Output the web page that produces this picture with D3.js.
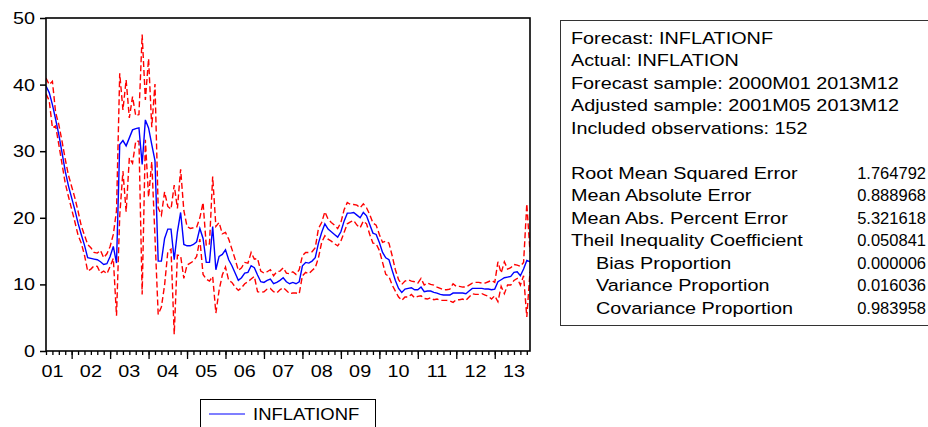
<!DOCTYPE html>
<html>
<head>
<meta charset="utf-8">
<script src="https://cdn.jsdelivr.net/npm/d3@7"></script>
<style>
body { margin: 0; background: #fff; }
text { font-family: "Liberation Sans", Arial, sans-serif; fill: #000; }
</style>
</head>
<body>
<div id="chart"></div>
<script>
// monthly observations, 2001M05 .. 2013M12 (152)
var forecast = [
  39.8, 38.8, 37.0, 34.8, 32.5, 29.8, 27.0, 24.8,
  23.0, 21.2, 19.2, 17.5, 15.9, 14.0, 13.9, 13.8, 13.7, 13.4, 13.0, 13.1,
  14.2, 15.7, 13.2, 31.0, 31.6, 30.8, 32.0, 33.2, 33.4, 33.5, 28.0, 34.7,
  33.5, 31.0, 28.6, 13.5, 13.5, 16.9, 18.3, 18.3, 13.7, 17.9, 20.8, 16.0,
  15.8, 15.8, 16.0, 16.4, 18.4, 16.9, 13.3, 13.3, 18.7, 12.2, 14.2, 14.5,
  15.2, 13.7, 12.8, 11.7, 10.6, 11.0, 11.7, 11.8, 12.8, 12.5, 11.4, 10.4,
  10.3, 10.6, 10.8, 10.1, 10.3, 10.6, 11.0, 10.4, 10.1, 10.3, 10.1, 10.4,
  12.8, 13.3, 13.2, 13.5, 14.0, 16.2, 17.8, 19.1, 18.3, 17.9, 17.5, 17.1,
  17.9, 19.5, 20.7, 20.7, 20.8, 20.4, 20.0, 20.8, 20.3, 19.0, 17.7, 17.5,
  16.3, 14.8, 14.0, 13.7, 12.1, 10.6, 9.4, 8.8, 9.3, 9.4, 9.5, 9.2,
  9.2, 9.6, 8.9, 9.0, 9.0, 8.8, 8.7, 8.5, 8.4, 8.4, 8.4, 8.7,
  8.7, 8.7, 8.7, 8.6, 9.0, 9.4, 9.4, 9.4, 9.4, 9.3, 9.3, 9.2,
  9.3, 10.4, 10.7, 11.0, 11.1, 11.2, 11.8, 11.9, 11.3, 12.3, 13.6, 13.4
];
// half width of the +/- 2 S.E. band
var twoSE = [
  1.2, 1.2, 3.5, 1.0, 1.5, 1.7, 1.8, 1.6,
  1.7, 1.8, 1.8, 1.3, 1.5, 2.0, 1.6, 1.0, 1.0, 1.7, 1.0, 1.5,
  1.5, 1.8, 7.9, 10.7, 4.6, 9.9, 3.0, 5.0, 1.9, 2.0, 19.5, 3.0,
  10.4, 2.6, 11.5, 8.0, 6.9, 7.0, 3.4, 3.0, 11.2, 3.5, 6.5, 5.1,
  2.9, 2.6, 2.5, 2.2, 1.6, 5.4, 2.5, 2.8, 7.5, 6.5, 5.1, 3.1,
  2.6, 3.1, 2.5, 2.1, 1.5, 1.5, 1.6, 1.4, 2.0, 1.3, 2.5, 1.6,
  1.4, 1.3, 1.4, 1.2, 1.6, 1.4, 1.5, 1.3, 1.5, 1.6, 1.4, 1.8,
  1.5, 1.5, 1.6, 1.4, 1.5, 2.2, 1.5, 1.8, 1.5, 1.4, 1.4, 1.3,
  1.4, 1.7, 1.6, 1.3, 1.2, 1.5, 1.5, 1.3, 1.2, 1.5, 1.5, 1.4,
  1.2, 1.5, 2.5, 2.5, 2.2, 1.6, 1.3, 1.2, 1.2, 1.3, 1.0, 1.2,
  1.0, 1.3, 1.0, 1.2, 1.0, 1.1, 0.9, 0.9, 0.8, 0.8, 0.9, 1.4,
  1.0, 1.0, 0.9, 1.0, 0.9, 0.8, 0.9, 0.9, 0.8, 0.9, 1.1, 1.4,
  1.0, 3.0, 1.0, 2.4, 1.2, 1.3, 1.2, 1.0, 1.4, 1.0, 8.5, 1.5
];
var firstYear = 2001, firstMonth = 5;
var yearLabels = ["01", "02", "03", "04", "05", "06", "07", "08", "09", "10", "11", "12", "13"];
var yTicks = [0, 10, 20, 30, 40, 50];

var infoLines = [
  "Forecast: INFLATIONF",
  "Actual: INFLATION",
  "Forecast sample: 2000M01 2013M12",
  "Adjusted sample: 2001M05 2013M12",
  "Included observations: 152"
];
var statNames = ["Root Mean Squared Error", "Mean Absolute Error", "Mean Abs. Percent Error",
  "Theil Inequality Coefficient", "Bias Proportion", "Variance Proportion", "Covariance Proportion"];
var statIndent = [0, 0, 0, 0, 1, 1, 1];
var statValues = ["1.764792", "0.888968", "5.321618", "0.050841", "0.000006", "0.016036", "0.983958"];
var legendLabel = "INFLATIONF";

var W = 928, H = 427;
var plot = {left: 46, right: 530, top: 18, bottom: 351};
var fontSize = 16.5, stretch = 1.2;

var svg = d3.select("#chart").append("svg")
  .attr("width", W)
  .attr("height", H)
  .style("display", "block");

svg.append("rect").attr("width", W).attr("height", H).attr("fill", "#fff");

var x = d3.scaleLinear().domain([0, forecast.length - 1]).range([plot.left, plot.right]);
var y = d3.scaleLinear().domain([0, 50]).range([plot.bottom, plot.top]);

// month index of a given year/month
function idx(year, month) {
  return (year - firstYear) * 12 + month - firstMonth;
}

// wide text helper (the picture is stretched sideways)
function wideText(g, px, py, str, anchor, sx) {
  return g.append("text")
    .attr("transform", "translate(" + px + "," + py + ") scale(" + (sx || stretch) + ",1)")
    .attr("text-anchor", anchor || "start")
    .style("font-size", fontSize + "px")
    .text(str);
}

// y axis
var yAxis = d3.axisLeft(y).tickValues(yTicks).tickSize(6).tickFormat("");
var gy = svg.append("g").attr("transform", "translate(" + plot.left + ",0)").call(yAxis);
gy.select(".domain").remove();
gy.selectAll("line").attr("stroke", "#000").attr("stroke-width", 1.5);
yTicks.forEach(function(t) {
  wideText(svg, 35, y(t) + 6, String(t), "end");
});

// x axis: minor every 2 months, major at January, labels at July
var minorTicks = d3.range(0, forecast.length, 2);
var janTicks = yearLabels.map(function(l, k) { return idx(firstYear + k, 1); }).filter(function(v) { return v >= 0; });
var julTicks = yearLabels.map(function(l, k) { return idx(firstYear + k, 7); });

var gxMinor = svg.append("g").attr("transform", "translate(0," + plot.bottom + ")")
  .call(d3.axisBottom(x).tickValues(minorTicks).tickSize(4).tickFormat(""));
var gxMajor = svg.append("g").attr("transform", "translate(0," + plot.bottom + ")")
  .call(d3.axisBottom(x).tickValues(janTicks).tickSize(8).tickFormat(""));
[gxMinor, gxMajor].forEach(function(g) {
  g.select(".domain").remove();
  g.selectAll("line").attr("stroke", "#000").attr("stroke-width", 1.3);
});
julTicks.forEach(function(t, k) {
  wideText(svg, x(t), 377, yearLabels[k], "middle");
});

// series
var line = d3.line()
  .x(function(d, i) { return x(i); })
  .y(function(d) { return y(d); });

var upper = forecast.map(function(f, i) { return f + twoSE[i]; });
var lower = forecast.map(function(f, i) { return f - twoSE[i]; });

svg.append("clipPath").attr("id", "plotclip").append("rect")
  .attr("x", plot.left).attr("y", plot.top)
  .attr("width", plot.right - plot.left).attr("height", plot.bottom - plot.top);

var series = svg.append("g").attr("clip-path", "url(#plotclip)");
[upper, lower].forEach(function(s) {
  series.append("path")
    .datum(s)
    .attr("d", line)
    .attr("fill", "none")
    .attr("stroke", "#ff0000")
    .attr("stroke-width", 1.4)
    .attr("stroke-dasharray", "6,3");
});
series.append("path")
  .datum(forecast)
  .attr("d", line)
  .attr("fill", "none")
  .attr("stroke", "#0000ff")
  .attr("stroke-width", 1.4);

// frame
svg.append("rect")
  .attr("x", plot.left).attr("y", plot.top)
  .attr("width", plot.right - plot.left).attr("height", plot.bottom - plot.top)
  .attr("fill", "none")
  .attr("stroke", "#000")
  .attr("stroke-width", 1.6);

// legend
var lg = svg.append("g");
lg.append("rect")
  .attr("x", 200.5).attr("y", 399.5).attr("width", 175).attr("height", 60)
  .attr("fill", "#fff").attr("stroke", "#000").attr("stroke-width", 1);
lg.append("line")
  .attr("x1", 209).attr("x2", 245).attr("y1", 414).attr("y2", 414)
  .attr("stroke", "#0000ff").attr("stroke-width", 1.2);
wideText(lg, 253, 420, legendLabel, "start", 1.12);

// statistics box
var sb = svg.append("g");
sb.append("rect")
  .attr("x", 560.5).attr("y", 20.5).attr("width", 400).attr("height", 305)
  .attr("fill", "#fff").attr("stroke", "#333").attr("stroke-width", 1);
infoLines.forEach(function(t, k) {
  wideText(sb, 571, 43.5 + k * 22.5, t);
});
statNames.forEach(function(t, k) {
  wideText(sb, statIndent[k] ? 596 : 571, 178.5 + k * 22.5, t);
  wideText(sb, 926, 178.5 + k * 22.5, statValues[k], "end", 1.0);
});
</script>
</body>
</html>
